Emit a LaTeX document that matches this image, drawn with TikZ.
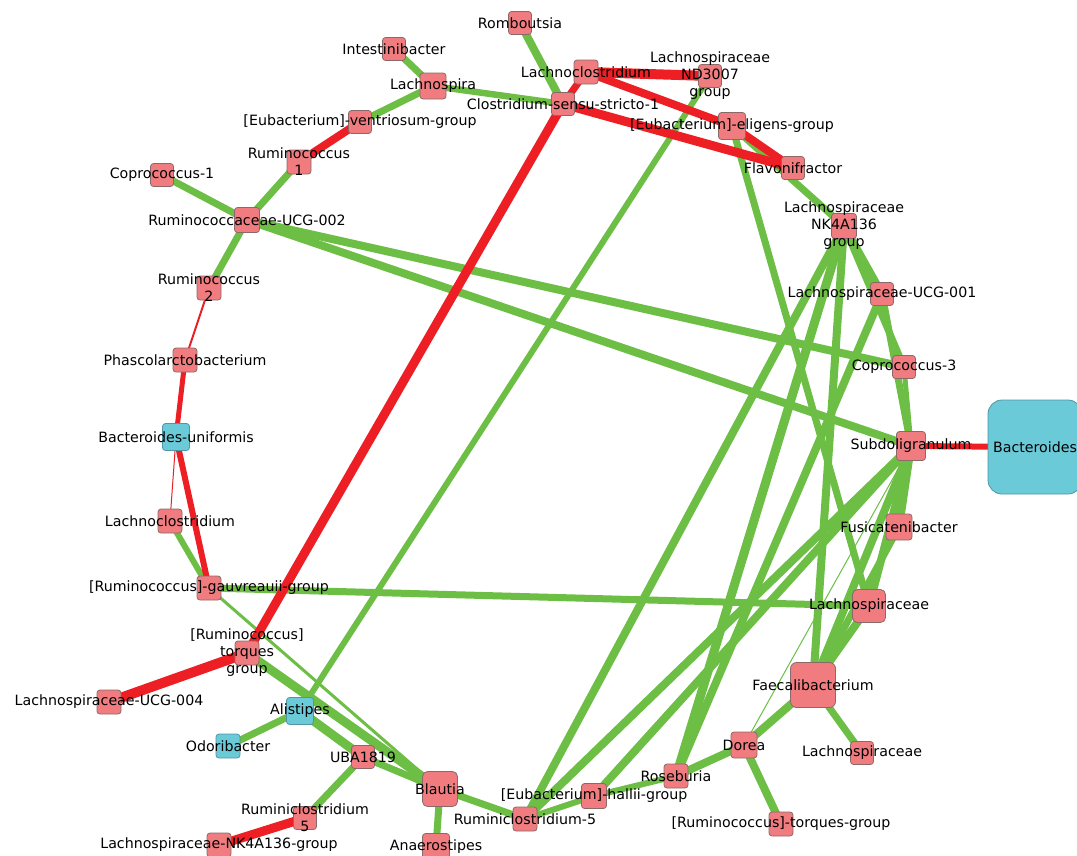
\documentclass[tikz,border=0pt]{standalone}
\usepackage{fontspec}
\setmainfont{DejaVu Sans}
\pgfdeclarelayer{bg}
\pgfsetlayers{bg,main}
\definecolor{eg}{RGB}{108,190,69}
\definecolor{er}{RGB}{237,30,36}
\definecolor{np}{RGB}{240,124,128}
\definecolor{nc}{RGB}{107,202,216}
\definecolor{nb}{RGB}{140,105,105}
\definecolor{nbc}{RGB}{80,150,165}
\tikzset{
  sq/.style={draw=nb, line width=0.8pt, fill=np, rounded corners=3pt, minimum size=#1, inner sep=0pt},
  sq/.default=23pt,
  cy/.style={sq=#1, fill=nc, draw=nbc},
  cy/.default=23pt,
  lab/.style={font=\fontsize{14.2}{17}\selectfont, align=center, text=black, inner sep=0pt},
  ge/.style={draw=eg, line width=#1},
  re/.style={draw=er, line width=#1}
}
\begin{document}
\begin{tikzpicture}[x=1pt,y=-1pt]
\useasboundingbox (0,0) rectangle (1077,855);
\clip (0,0) rectangle (1077,855);
% nodes
\node[sq, label={[lab]center:Romboutsia}] (romb) at (520,23) {};
\node[sq, label={[lab]center:Intestinibacter}] (intb) at (394,49) {};
\node[sq=26pt, label={[lab]center:Lachnospira}] (lspa) at (433,86) {};
\node[sq=24pt, label={[lab]center:Lachnoclostridium}] (lct) at (586,72) {};
\node[sq, label={[lab]center:{Lachnospiraceae\\ND3007\\group}}] (nd) at (710,76) {};
\node[sq, label={[lab]center:Clostridium-sensu-stricto-1}] (css) at (563,104) {};
\node[sq, label={[lab]center:{[Eubacterium]-ventriosum-group}}] (vent) at (360,122) {};
\node[sq=27pt, label={[lab]center:{[Eubacterium]-eligens-group}}] (elig) at (732,126) {};
\node[sq=24pt, label={[lab]center:{Ruminococcus\\1}}] (rum1) at (299,162) {};
\node[sq, label={[lab]center:Coprococcus-1}] (cop1) at (162,175) {};
\node[sq, label={[lab]center:Flavonifractor}] (flav) at (793,168) {};
\node[sq=25pt, label={[lab]center:Ruminococcaceae-UCG-002}] (ucg2) at (247,220) {};
\node[sq=25pt, label={[lab]center:{Lachnospiraceae\\NK4A136\\group}}] (nk) at (844,226) {};
\node[sq=24pt, label={[lab]center:{Ruminococcus\\2}}] (rum2) at (209,288) {};
\node[sq, label={[lab]center:Lachnospiraceae-UCG-001}] (ucg1) at (882,294) {};
\node[sq=24pt, label={[lab]center:Phascolarctobacterium}] (phas) at (185,360) {};
\node[sq, label={[lab]center:Coprococcus-3}] (cop3) at (904,367) {};
\node[cy=27pt, label={[lab]center:Bacteroides-uniformis}] (buni) at (176,437) {};
\node[sq=29pt, label={[lab]center:Subdoligranulum}] (subd) at (911,446) {};
\node[cy=94pt, rounded corners=14pt, label={[lab]center:Bacteroides}] (bact) at (1035,447) {};
\node[sq=24pt, label={[lab]center:Lachnoclostridium}] (lcl) at (170,521) {};
\node[sq=26pt, label={[lab]center:Fusicatenibacter}] (fusi) at (899,527) {};
\node[sq=24pt, label={[lab]center:{[Ruminococcus]-gauvreauii-group}}] (gauv) at (209,588) {};
\node[sq=33pt, rounded corners=5pt, label={[lab]center:Lachnospiraceae}] (lmid) at (869,606) {};
\node[sq=24pt, label={[lab]center:{[Ruminococcus]\\torques\\group}}] (torq) at (247,653) {};
\node[sq=45pt, rounded corners=6pt, label={[lab]center:Faecalibacterium}] (faec) at (813,685) {};
\node[sq=24pt, label={[lab]center:Lachnospiraceae-UCG-004}] (u004) at (109,702) {};
\node[cy=27pt, label={[lab]center:Alistipes}] (alis) at (300,711) {};
\node[cy=24pt, label={[lab]center:Odoribacter}] (odor) at (228,746) {};
\node[sq=26pt, label={[lab]center:Dorea}] (dore) at (744,745) {};
\node[sq, label={[lab]center:UBA1819}] (uba) at (363,757) {};
\node[sq, label={[lab]center:Lachnospiraceae}] (lbot) at (862,753) {};
\node[sq=35pt, rounded corners=5pt, label={[lab]center:Blautia}] (blau) at (440,789) {};
\node[sq=24pt, label={[lab]center:Roseburia}] (rose) at (676,776) {};
\node[sq=25pt, label={[lab]center:{[Eubacterium]-hallii-group}}] (hall) at (594,796) {};
\node[sq=24pt, label={[lab]center:Ruminiclostridium-5}] (rc5b) at (525,819) {};
\node[sq, label={[lab]center:{Ruminiclostridium\\5}}] (rc5l) at (305,818) {};
\node[sq=24pt, label={[lab]center:{[Ruminococcus]-torques-group}}] (torb) at (781,824) {};
\node[sq=27pt, label={[lab]center:Anaerostipes}] (anae) at (436,847) {};
\node[sq=24pt, label={[lab]center:Lachnospiraceae-NK4A136-group}] (nkb) at (219,845) {};
% edges
\begin{pgfonlayer}{bg}
\draw[ge=8pt] (romb.center) -- (css.center);
\draw[ge=7pt] (intb.center) -- (lspa.center);
\draw[ge=6.5pt] (lspa.center) -- (css.center);
\draw[ge=7pt] (lspa.center) -- (vent.center);
\draw[ge=7pt] (rum1.center) -- (ucg2.center);
\draw[ge=7pt] (cop1.center) -- (ucg2.center);
\draw[ge=7pt] (ucg2.center) -- (rum2.center);
\draw[ge=8pt] (ucg2.center) -- (cop3.center);
\draw[ge=8pt] (ucg2.center) -- (subd.center);
\draw[ge=6pt] (lcl.center) -- (gauv.center);
\draw[ge=7pt] (gauv.center) -- (lmid.center);
\draw[ge=3pt] (gauv.center) -- (blau.center);
\draw[ge=6pt] (nd.center) -- (alis.center);
\draw[ge=7pt] (elig.center) -- (nk.center);
\draw[ge=7pt] (elig.center) -- (lmid.center);
\draw[ge=8pt] (nk.center) -- (ucg1.center);
\draw[ge=7pt] (nk.center) -- (cop3.center);
\draw[ge=7pt] (ucg1.center) -- (subd.center);
\draw[ge=5pt] (cop3.center) -- (subd.center);
\draw[ge=8pt] (nk.center) -- (rc5b.center);
\draw[ge=9pt] (nk.center) -- (rose.center);
\draw[ge=8pt] (ucg1.center) -- (rose.center);
\draw[ge=8pt] (nk.center) -- (faec.center);
\draw[ge=8pt] (subd.center) -- (rc5b.center);
\draw[ge=8pt] (subd.center) -- (hall.center);
\draw[ge=8pt] (subd.center) -- (fusi.center);
\draw[ge=8pt] (subd.center) -- (lmid.center);
\draw[ge=8pt] (subd.center) -- (faec.center);
\draw[ge=1pt] (subd.center) -- (dore.center);
\draw[ge=7pt] (fusi.center) -- (faec.center);
\draw[ge=8pt] (faec.center) -- (lmid.center);
\draw[ge=8pt] (faec.center) -- (dore.center);
\draw[ge=7pt] (faec.center) -- (lbot.center);
\draw[ge=8pt] (dore.center) -- (torb.center);
\draw[ge=8pt] (dore.center) -- (rose.center);
\draw[ge=6pt] (rose.center) -- (hall.center);
\draw[ge=6pt] (hall.center) -- (rc5b.center);
\draw[ge=7pt] (rc5b.center) -- (blau.center);
\draw[ge=7pt] (blau.center) -- (anae.center);
\draw[ge=9pt] (torq.center) -- (blau.center);
\draw[ge=7pt] (uba.center) -- (blau.center);
\draw[ge=9pt] (alis.center) -- (uba.center);
\draw[ge=7pt] (alis.center) -- (odor.center);
\draw[ge=7pt] (uba.center) -- (rc5l.center);
% red
\draw[re=8pt] (vent.center) -- (rum1.center);
\draw[re=2pt] (rum2.center) -- (phas.center);
\draw[re=5pt] (phas.center) -- (buni.center);
\draw[re=6pt] (buni.center) -- (gauv.center);
\draw[re=1pt] (buni.center) -- (lcl.center);
\draw[re=10pt] (torq.center) -- (u004.center);
\draw[re=9pt] (torq.center) -- (css.center);
\draw[re=7pt] (css.center) -- (lct.center);
\draw[re=10pt] (lct.center) -- (nd.center);
\draw[re=8pt] (lct.center) -- (elig.center);
\draw[re=9pt] (css.center) -- (flav.center);
\draw[re=8pt] (elig.center) -- (flav.center);
\draw[re=6pt] (subd.center) -- (bact.center);
\draw[re=9pt] (rc5l.center) -- (nkb.center);
\end{pgfonlayer}
\end{tikzpicture}
\end{document}
